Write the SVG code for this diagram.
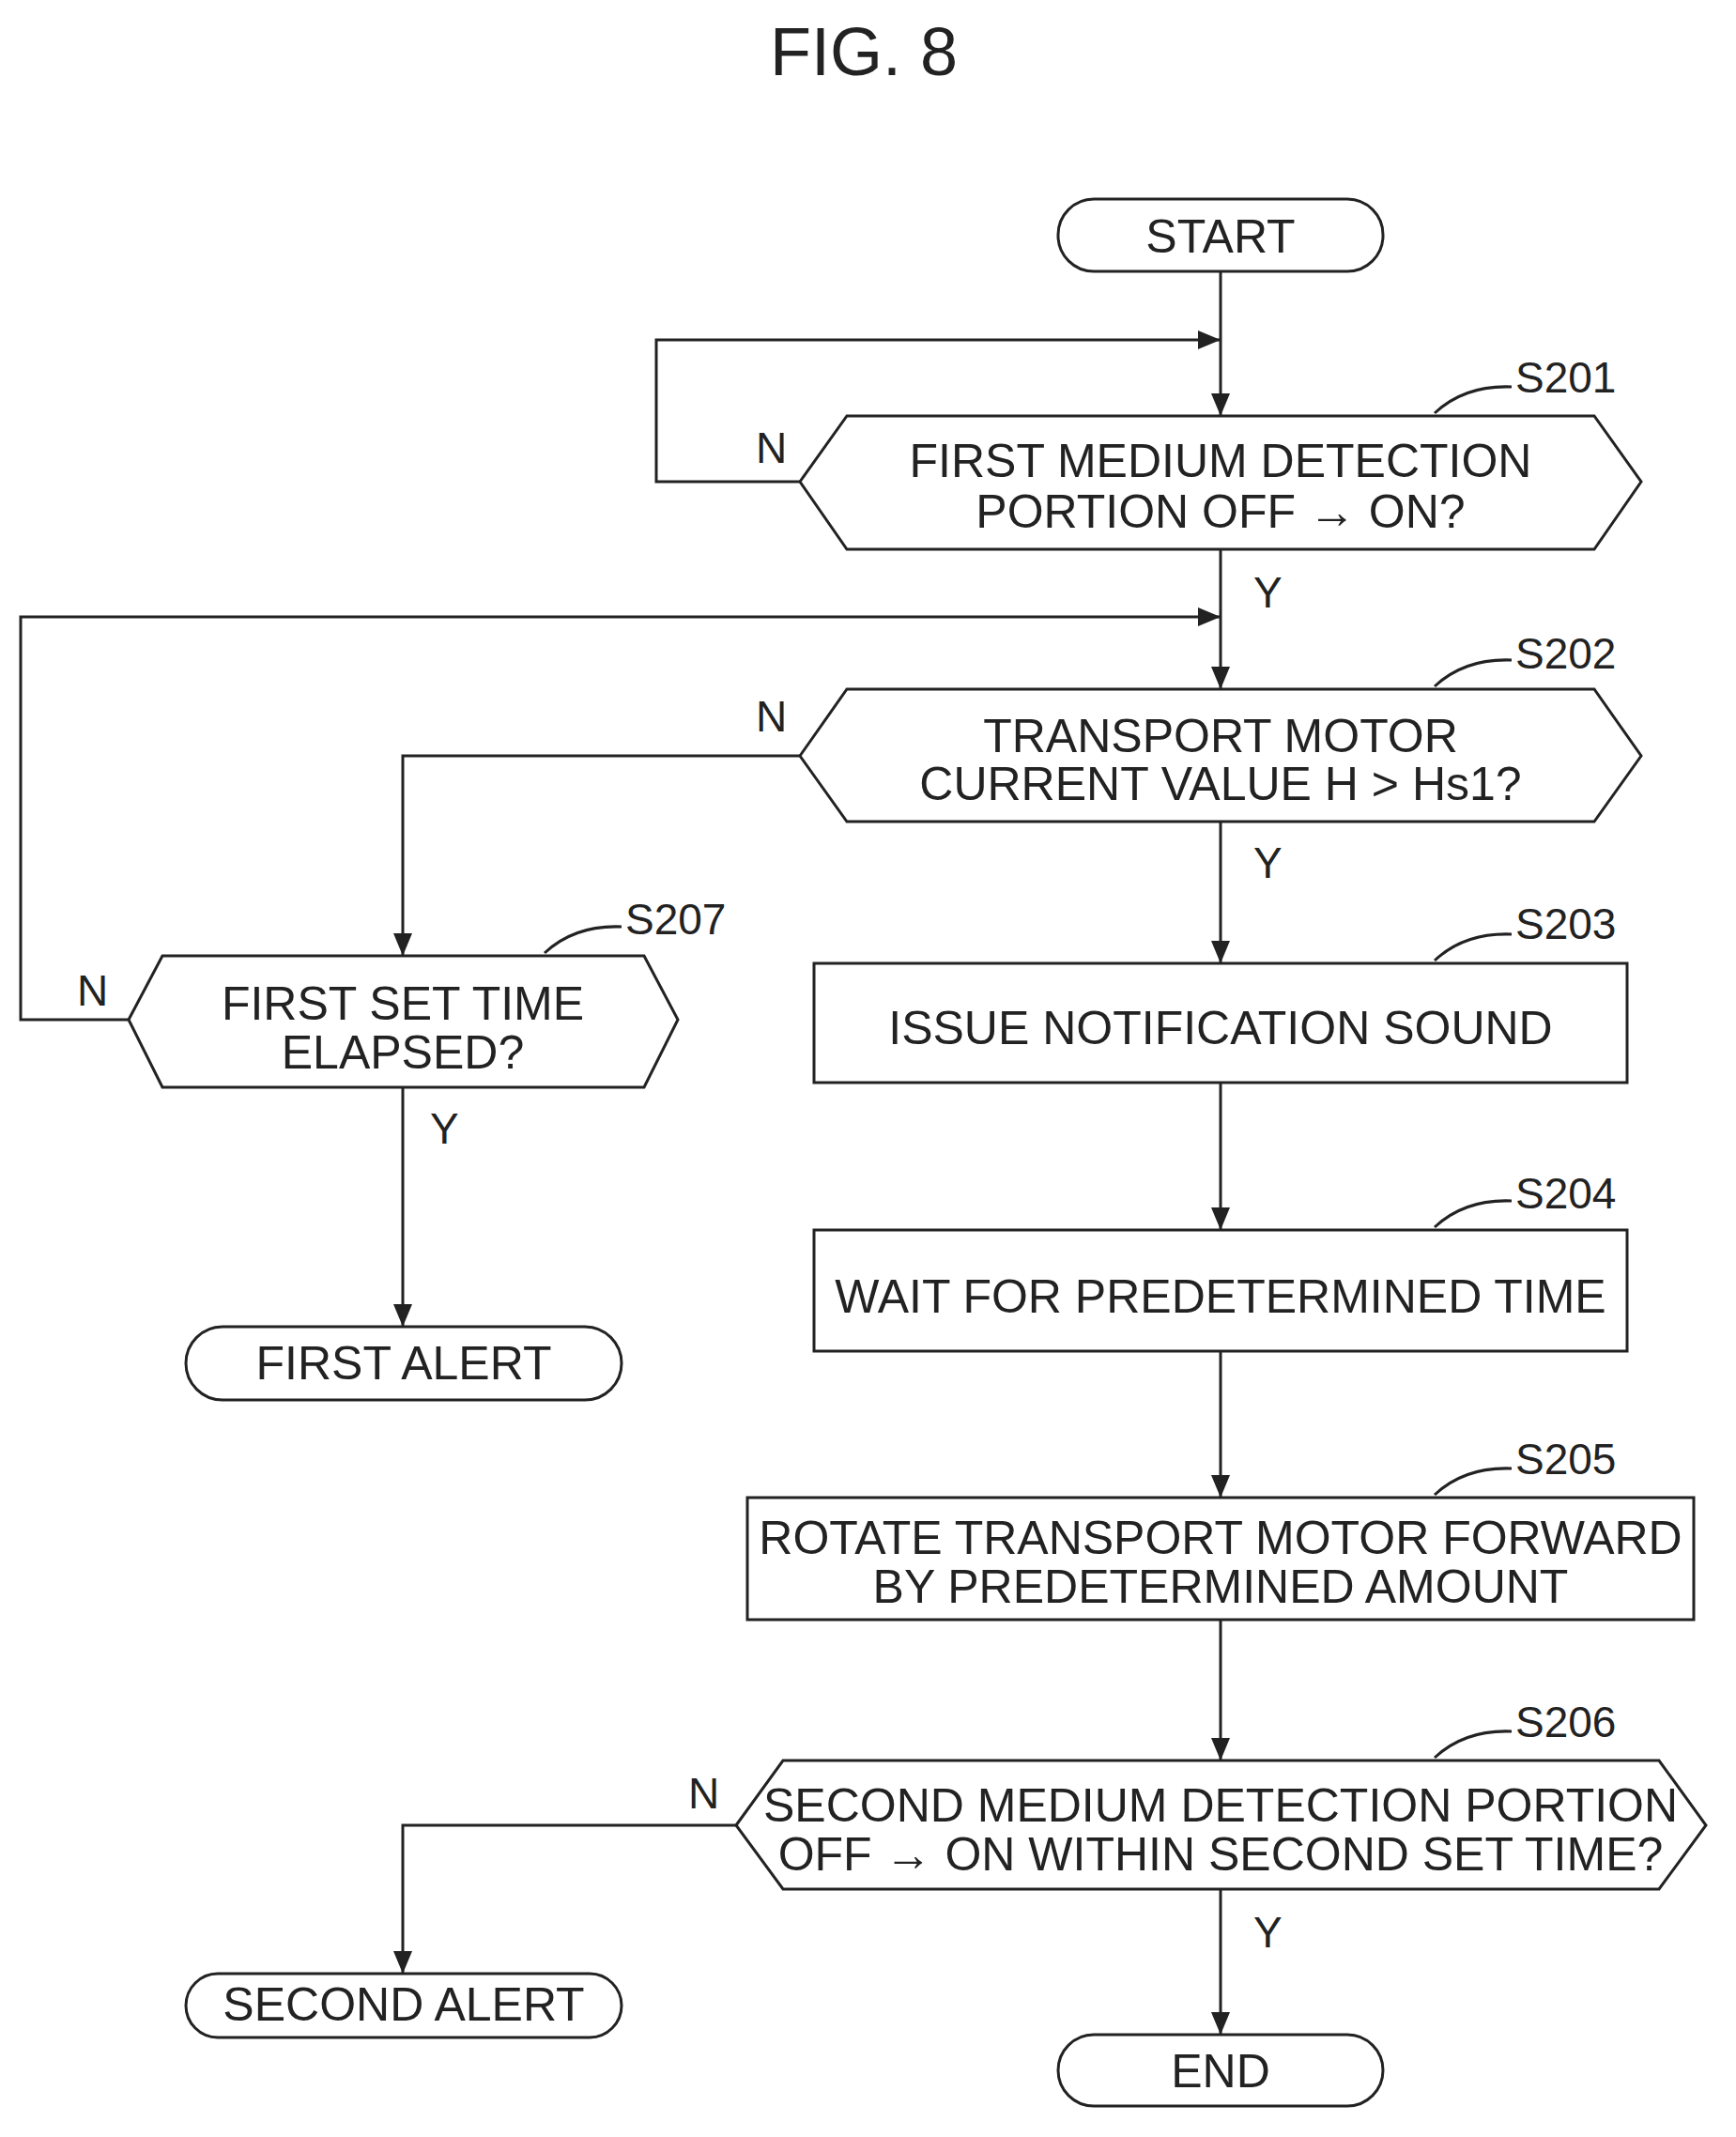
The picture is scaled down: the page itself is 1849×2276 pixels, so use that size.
<svg xmlns="http://www.w3.org/2000/svg" width="1849" height="2276" viewBox="0 0 1849 2276">
<style>
.s{fill:#fff;stroke:#222;stroke-width:3}
.c{fill:none;stroke:#222;stroke-width:3}
.t{font-family:"Liberation Sans",Arial,sans-serif;font-size:50px;fill:#222;text-anchor:middle;dominant-baseline:central}
.l{font-family:"Liberation Sans",Arial,sans-serif;font-size:46px;fill:#222;dominant-baseline:central}
</style>
<defs><marker id="a" markerWidth="12" markerHeight="10" refX="12" refY="5" orient="auto" markerUnits="userSpaceOnUse" viewBox="0 0 12 10"><path d="M0,0L12,5L0,10z" fill="#222"/></marker>
<marker id="b" viewBox="0 0 24 20" markerWidth="24" markerHeight="20" refX="24" refY="10" orient="auto" markerUnits="userSpaceOnUse"><path d="M0,0L24,10L0,20z" fill="#222"/></marker></defs>
<text x="920" y="55" class="t" style="font-size:72px">FIG. 8</text>
<g id="connectors">
<path class="c" d="M1300,289V443" marker-end="url(#b)"/>
<path class="c" d="M852,513H699V362H1300" marker-end="url(#b)"/>
<path class="c" d="M1300,585V734" marker-end="url(#b)"/>
<path class="c" d="M137,1086H22V657H1300" marker-end="url(#b)"/>
<path class="c" d="M1300,875V1026" marker-end="url(#b)"/>
<path class="c" d="M852,805H429V1018" marker-end="url(#b)"/>
<path class="c" d="M1300,1153V1310" marker-end="url(#b)"/>
<path class="c" d="M1300,1439V1595" marker-end="url(#b)"/>
<path class="c" d="M1300,1725V1875" marker-end="url(#b)"/>
<path class="c" d="M1300,2012V2167" marker-end="url(#b)"/>
<path class="c" d="M429,1158V1413" marker-end="url(#b)"/>
<path class="c" d="M784,1944H429V2102" marker-end="url(#b)"/>
<text class="l" x="805" y="477">N</text>
<text class="l" x="1335" y="631">Y</text>
<text class="l" x="805" y="763">N</text>
<text class="l" x="1335" y="919">Y</text>
<text class="l" x="82" y="1055">N</text>
<text class="l" x="458" y="1202">Y</text>
<text class="l" x="733" y="1910">N</text>
<text class="l" x="1335" y="2058">Y</text>
</g>
<g id="start"><rect class="s" x="1127" y="212" width="346" height="77" rx="38"/><text class="t" x="1300" y="252">START</text></g>
<g id="s201"><polygon class="s" points="852,513 902,443 1698,443 1748,513 1698,585 902,585"/><text class="t" x="1300" y="491">FIRST MEDIUM DETECTION</text><text class="t" x="1300" y="545">PORTION OFF → ON?</text><path class="c" d="M1528,440Q1560,410 1610,412"/><text class="l" x="1614" y="402">S201</text></g>
<g id="s202"><polygon class="s" points="852,805 902,734 1698,734 1748,805 1698,875 902,875"/><text class="t" x="1300" y="784">TRANSPORT MOTOR</text><text class="t" x="1300" y="835">CURRENT VALUE H &gt; Hs1?</text><path class="c" d="M1528,731Q1560,701 1610,703"/><text class="l" x="1614" y="696">S202</text></g>
<g id="s203"><rect class="s" x="867" y="1026" width="866" height="127"/><text class="t" x="1300" y="1095">ISSUE NOTIFICATION SOUND</text><path class="c" d="M1528,1023Q1560,993 1610,995"/><text class="l" x="1614" y="984">S203</text></g>
<g id="s207"><polygon class="s" points="137,1086 173,1018 686,1018 722,1086 686,1158 173,1158"/><text class="t" x="429" y="1069">FIRST SET TIME</text><text class="t" x="429" y="1121">ELAPSED?</text><path class="c" d="M580,1015Q612,985 662,987"/><text class="l" x="666" y="979">S207</text></g>
<g id="first-alert"><rect class="s" x="198" y="1413" width="464" height="78" rx="39"/><text class="t" x="430" y="1452">FIRST ALERT</text></g>
<g id="s204"><rect class="s" x="867" y="1310" width="866" height="129"/><text class="t" x="1300" y="1381">WAIT FOR PREDETERMINED TIME</text><path class="c" d="M1528,1307Q1560,1277 1610,1279"/><text class="l" x="1614" y="1271">S204</text></g>
<g id="s205"><rect class="s" x="796" y="1595" width="1008" height="130"/><text class="t" x="1300" y="1638">ROTATE TRANSPORT MOTOR FORWARD</text><text class="t" x="1300" y="1690">BY PREDETERMINED AMOUNT</text><path class="c" d="M1528,1592Q1560,1562 1610,1564"/><text class="l" x="1614" y="1554">S205</text></g>
<g id="s206"><polygon class="s" points="784,1944 834,1875 1767,1875 1817,1944 1767,2012 834,2012"/><text class="t" x="1300" y="1923">SECOND MEDIUM DETECTION PORTION</text><text class="t" x="1300" y="1975">OFF → ON WITHIN SECOND SET TIME?</text><path class="c" d="M1528,1872Q1560,1842 1610,1844"/><text class="l" x="1614" y="1834">S206</text></g>
<g id="second-alert"><rect class="s" x="198" y="2102" width="464" height="68" rx="34"/><text class="t" x="430" y="2135">SECOND ALERT</text></g>
<g id="end"><rect class="s" x="1127" y="2167" width="346" height="76" rx="38"/><text class="t" x="1300" y="2206">END</text></g>
</svg>
